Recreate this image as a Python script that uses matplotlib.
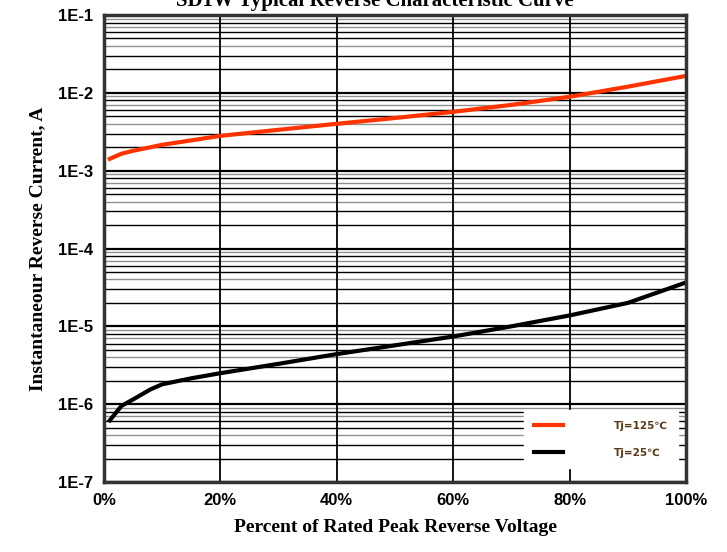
import numpy as np
import matplotlib.pyplot as plt
from matplotlib.ticker import FixedLocator, NullFormatter

# data
pct = [1, 3, 5, 8, 10, 15, 20, 30, 40, 50, 60, 70, 80, 90, 100]
ir_125 = [1.42e-3, 1.65e-3, 1.8e-3, 2.0e-3, 2.15e-3, 2.45e-3, 2.8e-3, 3.35e-3, 4.0e-3,
          4.75e-3, 5.7e-3, 7.0e-3, 8.9e-3, 1.2e-2, 1.65e-2]
ir_25 = [6.2e-7, 9.5e-7, 1.15e-6, 1.55e-6, 1.8e-6, 2.15e-6, 2.5e-6, 3.3e-6, 4.4e-6,
         5.7e-6, 7.4e-6, 1.0e-5, 1.38e-5, 2.0e-5, 3.66e-5]
x_ticks = [0, 20, 40, 60, 80, 100]
x_labels = ['0%', '20%', '40%', '60%', '80%', '100%']
y_ticks = [1e-7, 1e-6, 1e-5, 1e-4, 1e-3, 1e-2, 1e-1]
y_labels = ['1E-7', '1E-6', '1E-5', '1E-4', '1E-3', '1E-2', '1E-1']

fig = plt.figure(figsize=(7.27, 5.52), dpi=100)
ax = fig.add_axes([104 / 727, 1 - 482 / 552, 582 / 727, 467 / 552])
ax.set_yscale('log')
ax.set_xlim(0, 100)
ax.set_ylim(1e-7, 1e-1)

# grid: minor lines, some grey, some black
for dec in range(-7, -1):
    for k in range(2, 10):
        c = '#909090' if k in (4, 7, 9) else 'black'
        ax.axhline(k * 10.0 ** dec, color=c, lw=1.0, zorder=1)
for yt in y_ticks:
    ax.axhline(yt, color='black', lw=1.6, zorder=1)
for xt in x_ticks:
    ax.axvline(xt, color='black', lw=1.3, zorder=1)

ax.plot(pct, ir_125, color='#ff3300', lw=3, zorder=3, label='Tj=125℃')
ax.plot(pct, ir_25, color='black', lw=3, zorder=3, label='Tj=25℃')

ax.yaxis.set_major_locator(FixedLocator(y_ticks))
ax.yaxis.set_minor_formatter(NullFormatter())
ax.yaxis.set_minor_locator(FixedLocator([]))
ax.set_yticklabels(y_labels, fontsize=12, fontweight='bold', family='Liberation Sans')
ax.set_xticks(x_ticks)
ax.set_xticklabels(x_labels, fontsize=12, fontweight='bold', family='Liberation Sans')
ax.tick_params(length=0, pad=8)

for s in ax.spines.values():
    s.set_linewidth(2.5)
    s.set_color('#333333')
    s.set_zorder(5)

ax.set_xlabel('Percent of Rated Peak Reverse Voltage', fontsize=14, fontweight='bold',
              family='Liberation Serif', labelpad=8)
ax.set_ylabel('Instantaneour Reverse Current, A', fontsize=14, fontweight='bold',
              family='Liberation Serif', labelpad=8)

leg = ax.legend(loc='lower right', bbox_to_anchor=(0.986, 0.03), frameon=True, fancybox=False,
                prop={'family': ['DejaVu Sans'], 'size': 7.5, 'weight': 'bold'},
                handlelength=2.8, handletextpad=4.8, borderpad=1.0, labelspacing=1.6,
                borderaxespad=0)
leg.get_frame().set_edgecolor('white')
leg.get_frame().set_alpha(1)
leg.set_zorder(4)
for t in leg.get_texts():
    t.set_color('#5a3a1a')

# title, cut off at the top of the picture as in the reference
fig.text(0.515, 1 - 6 / 552, 'SD1W Typical Reverse Characteristic Curve', ha='center',
         va='baseline', fontsize=15, fontweight='bold', family='Liberation Serif')

fig.savefig('out.png', dpi=100)
